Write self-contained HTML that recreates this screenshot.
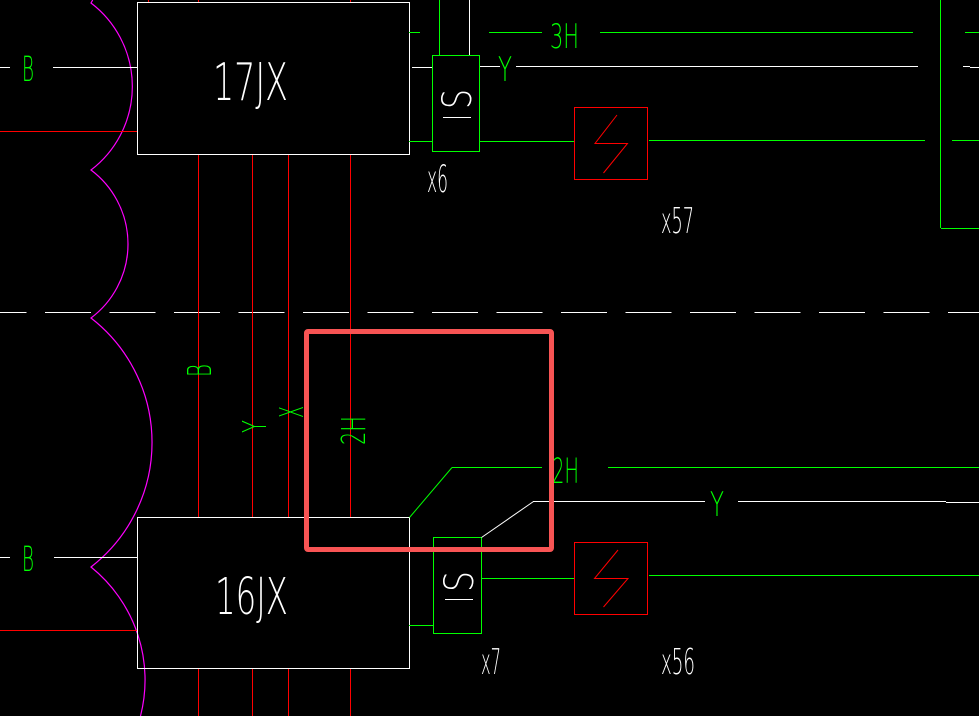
<!DOCTYPE html>
<html>
<head>
<meta charset="utf-8">
<style>
html,body{margin:0;padding:0;background:#000;width:979px;height:716px;overflow:hidden;}
svg{display:block;overflow:hidden;}
text{font-family:"DejaVu Sans","Liberation Sans",sans-serif;font-weight:200;}
</style>
</head>
<body>
<svg width="979" height="716" viewBox="0 0 979 716" xmlns="http://www.w3.org/2000/svg">
<rect x="0" y="0" width="979" height="716" fill="#000"/>

<!-- magenta scalloped curve -->
<path d="M 92.7,0 L 91,3 A 105 105 0 0 1 91,170 A 92.5 92.5 0 0 1 91,318 A 157.5 157.5 0 0 1 91,567 A 145 145 0 0 1 140.5,716" fill="none" stroke="#ff00ff" stroke-width="1.2"/>

<g shape-rendering="crispEdges" fill="none" stroke-width="1">
<!-- dashed center line -->
<line x1="0" y1="312.5" x2="979" y2="312.5" stroke="#fff" stroke-dasharray="46 18.5" stroke-dashoffset="19.5"/>

<!-- boxes -->
<rect x="137.5" y="2.5" width="272" height="152" stroke="#fff"/>
<rect x="137.5" y="517.5" width="272" height="151" stroke="#fff"/>

<!-- left white B lines -->
<line x1="0" y1="67.5" x2="10" y2="67.5" stroke="#fff"/>
<line x1="53" y1="67.5" x2="137" y2="67.5" stroke="#fff"/>
<line x1="0" y1="557.5" x2="10" y2="557.5" stroke="#fff"/>
<line x1="54" y1="557.5" x2="137" y2="557.5" stroke="#fff"/>
<!-- left red lines -->
<line x1="0" y1="131.5" x2="137" y2="131.5" stroke="#ff0000"/>
<line x1="0" y1="630.5" x2="137" y2="630.5" stroke="#ff0000"/>

<!-- red verticals -->
<line x1="148.5" y1="0" x2="148.5" y2="2" stroke="#ff0000"/>
<line x1="198.5" y1="0" x2="198.5" y2="2" stroke="#ff0000"/>
<line x1="350.5" y1="0" x2="350.5" y2="2" stroke="#ff0000"/>
<line x1="198.5" y1="155" x2="198.5" y2="517" stroke="#ff0000"/>
<line x1="252.5" y1="155" x2="252.5" y2="517" stroke="#ff0000"/>
<line x1="288.5" y1="155" x2="288.5" y2="517" stroke="#ff0000"/>
<line x1="350.5" y1="155" x2="350.5" y2="517" stroke="#ff0000"/>
<line x1="198.5" y1="669" x2="198.5" y2="716" stroke="#ff0000"/>
<line x1="252.5" y1="669" x2="252.5" y2="716" stroke="#ff0000"/>
<line x1="288.5" y1="669" x2="288.5" y2="716" stroke="#ff0000"/>
<line x1="350.5" y1="669" x2="350.5" y2="716" stroke="#ff0000"/>

<!-- top right area -->
<line x1="439.5" y1="0" x2="439.5" y2="55" stroke="#00ff00"/>
<line x1="469.5" y1="0" x2="469.5" y2="55" stroke="#fff"/>
<rect x="432.5" y="55.5" width="47" height="96" stroke="#00ff00"/>
<line x1="409" y1="32.5" x2="420" y2="32.5" stroke="#00ff00"/>
<line x1="489" y1="32.5" x2="542" y2="32.5" stroke="#00ff00"/>
<line x1="600" y1="32.5" x2="913" y2="32.5" stroke="#00ff00"/>
<line x1="965" y1="32.5" x2="979" y2="32.5" stroke="#00ff00"/>
<line x1="412" y1="67.5" x2="432" y2="67.5" stroke="#fff"/>
<line x1="480" y1="66.5" x2="500" y2="66.5" stroke="#fff"/>
<line x1="516" y1="66.5" x2="918" y2="66.5" stroke="#fff"/>
<line x1="963" y1="66.5" x2="970" y2="66.5" stroke="#fff"/>
<line x1="970" y1="67.5" x2="979" y2="67.5" stroke="#fff"/>
<line x1="409" y1="141.5" x2="432" y2="141.5" stroke="#00ff00"/>
<line x1="480" y1="141.5" x2="575" y2="141.5" stroke="#00ff00"/>
<rect x="574.5" y="107.5" width="73" height="72" stroke="#ff0000"/>
<line x1="649" y1="140.5" x2="925" y2="140.5" stroke="#00ff00"/>
<line x1="952" y1="140.5" x2="979" y2="140.5" stroke="#00ff00"/>
<line x1="940.5" y1="0" x2="940.5" y2="228" stroke="#00ff00"/>
<line x1="941" y1="228.5" x2="979" y2="228.5" stroke="#00ff00"/>
<line x1="443" y1="117.5" x2="471" y2="117.5" stroke="#fff"/>

<!-- bottom right area -->
<line x1="452" y1="467.5" x2="542" y2="467.5" stroke="#00ff00"/>
<line x1="608" y1="467.5" x2="979" y2="467.5" stroke="#00ff00"/>
<line x1="533" y1="501.5" x2="705" y2="501.5" stroke="#fff"/>
<line x1="738" y1="501.5" x2="946" y2="501.5" stroke="#fff"/>
<line x1="946" y1="502.5" x2="979" y2="502.5" stroke="#fff"/>
<rect x="433.5" y="537.5" width="48" height="96" stroke="#00ff00"/>
<line x1="409" y1="625.5" x2="433" y2="625.5" stroke="#00ff00"/>
<line x1="482" y1="578.5" x2="575" y2="578.5" stroke="#00ff00"/>
<rect x="574.5" y="542.5" width="73" height="72" stroke="#ff0000"/>
<line x1="649" y1="575.5" x2="979" y2="575.5" stroke="#00ff00"/>
<line x1="445" y1="599.5" x2="473" y2="599.5" stroke="#fff"/>
</g>

<!-- diagonals and bolts -->
<g fill="none" stroke-width="1">
<polyline points="409.5,517.5 452,467.5" stroke="#00ff00"/>
<polyline points="481.5,537.5 533.5,501.5" stroke="#fff"/>
<polyline points="617,115 595,143.5 627.5,143.5 603.5,173" stroke="#ff0000"/>
<polyline points="618,550 594.5,578.5 628,578.5 603.5,607" stroke="#ff0000"/>
</g>

<!-- white texts -->
<g fill="#fff">
<text x="213" y="100" font-size="52" textLength="75" lengthAdjust="spacingAndGlyphs">17JX</text>
<text x="215" y="614" font-size="51" textLength="73" lengthAdjust="spacingAndGlyphs">16JX</text>
<text x="427" y="192" font-size="37" textLength="21" lengthAdjust="spacingAndGlyphs">x6</text>
<text x="661" y="233" font-size="36" textLength="33" lengthAdjust="spacingAndGlyphs">x57</text>
<text x="481" y="674" font-size="36" textLength="20" lengthAdjust="spacingAndGlyphs">x7</text>
<text x="661" y="674" font-size="36" textLength="34" lengthAdjust="spacingAndGlyphs">x56</text>
<text transform="translate(471,109) rotate(-90)" font-size="40" textLength="20" lengthAdjust="spacingAndGlyphs">S</text>
<text transform="translate(473,592) rotate(-90)" font-size="40" textLength="21" lengthAdjust="spacingAndGlyphs">S</text>
</g>

<!-- green texts -->
<g fill="#00ff00">
<text x="22" y="81" font-size="35" textLength="12" lengthAdjust="spacingAndGlyphs">B</text>
<text x="22" y="571" font-size="35" textLength="12" lengthAdjust="spacingAndGlyphs">B</text>
<text x="550" y="48" font-size="34" textLength="29" lengthAdjust="spacingAndGlyphs">3H</text>
<text x="498" y="81" font-size="34" textLength="14" lengthAdjust="spacingAndGlyphs">Y</text>
<text x="552" y="483" font-size="35" textLength="27" lengthAdjust="spacingAndGlyphs">2H</text>
<text x="710" y="516" font-size="34" textLength="14" lengthAdjust="spacingAndGlyphs">Y</text>
<text transform="translate(211,377) rotate(-90)" font-size="33" textLength="13" lengthAdjust="spacingAndGlyphs">B</text>
<text transform="translate(266,433) rotate(-90)" font-size="33" textLength="13" lengthAdjust="spacingAndGlyphs">Y</text>
<text transform="translate(303,418) rotate(-90)" font-size="33" textLength="12" lengthAdjust="spacingAndGlyphs">X</text>
<text transform="translate(365,445) rotate(-90)" font-size="33" textLength="29" lengthAdjust="spacingAndGlyphs">2H</text>
</g>

<!-- highlight rectangle -->
<rect x="306.5" y="331.5" width="245" height="218" rx="1.5" fill="none" stroke="#f85454" stroke-width="5"/>
</svg>
</body>
</html>
